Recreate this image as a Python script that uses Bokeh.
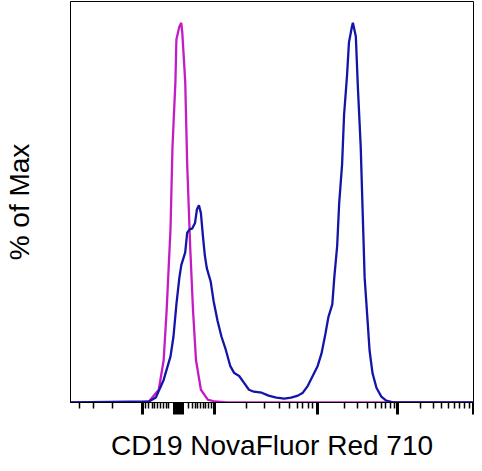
import numpy as np
from bokeh.plotting import figure
from bokeh.models import Range1d, FixedTicker, CustomJSTickFormatter
from bokeh.embed import file_html
from bokeh.resources import INLINE

# Histogram data (display channel, event counts)
mag_channel = [0, 70, 80, 90, 95, 98, 102, 104, 107, 108, 111, 113, 114, 117, 119, 122, 125, 128, 133, 140, 147, 160, 411]
mag_count = [0, 0, 1, 13, 43, 93, 177, 260, 327, 370, 383, 387, 377, 327, 243, 160, 93, 43, 13, 3, 1, 0, 0]

blue_channel = [0, 80, 87, 95, 102, 105, 108, 111, 113, 117, 119, 122, 124, 127, 129, 131, 133, 135, 137, 139,
                143, 146, 150, 154, 158, 163, 167, 172, 177, 182, 187, 195, 202, 210, 218, 225, 232, 237, 242, 247,
                252, 256, 260, 263, 267, 269, 272, 274, 277, 279, 282, 284, 287, 288, 291, 293, 296, 298, 300, 303,
                305, 308, 312, 317, 322, 330, 411]
blue_count = [0, 1, 5, 23, 47, 67, 100, 127, 140, 153, 173, 177, 177, 183, 197, 201, 193, 170, 150, 137,
              123, 103, 83, 67, 55, 37, 30, 27, 20, 13, 11, 10, 7, 5, 4, 5, 7, 10, 17, 27,
              37, 50, 70, 87, 100, 127, 160, 203, 243, 293, 333, 367, 383, 387, 373, 323, 260, 193, 127, 83,
              53, 30, 15, 6, 2, 0, 0]

# Biexponential axis tick positions (display channels)
major_ticks = [73.3, 106.5, 108.5, 110.5, 112.5, 114.5, 147, 251.7, 333.3, 410.5]
minor_ticks = [9, 23.3, 43.3, 76.7, 80, 83.3, 85.7, 88.3, 91.7, 95, 97.7, 100,
               120.5, 124, 127.5, 130, 133, 135.5, 138, 141, 144,
               180, 198.3, 213.3, 223.3, 231, 236.7, 242.3, 246.7,
               279.3, 292.7, 303.3, 311, 316.7, 321.7, 326.7, 330,
               356.7, 370, 378.3, 386, 391.7, 396.7, 401.7, 406.7]

x_label = "CD19 NovaFluor Red 710"
y_label = "% of Max"

mag_pct = np.array(mag_count) / max(mag_count) * 100
blue_pct = np.array(blue_count) / max(blue_count) * 100

p = figure(width=474, height=463, output_backend="svg", toolbar_location=None,
           x_range=Range1d(0, 411), y_range=Range1d(0, 105.6),
           min_border_left=69, min_border_right=1, min_border_top=1, min_border_bottom=60)
p.background_fill_color = "white"
p.border_fill_color = "white"
p.outline_line_color = "black"
p.outline_line_width = 1
p.xgrid.visible = False
p.ygrid.visible = False

p.line(mag_channel, mag_pct, line_color="#c41cc4", line_width=2.3)
p.line(blue_channel, blue_pct, line_color="#1414a8", line_width=2.3)

xa = p.xaxis[0]
xa.ticker = FixedTicker(ticks=major_ticks, minor_ticks=minor_ticks)
xa.formatter = CustomJSTickFormatter(code="return '';")
xa.major_label_text_font_size = "1px"
xa.major_label_standoff = 0
xa.major_tick_in = 0
xa.major_tick_out = 12
xa.major_tick_line_width = 3
xa.major_tick_line_color = "black"
xa.minor_tick_in = 0
xa.minor_tick_out = 6
xa.minor_tick_line_width = 1.5
xa.minor_tick_line_color = "black"
xa.axis_line_color = "black"
xa.axis_label = x_label
xa.axis_label_text_font = "Liberation Sans"
xa.axis_label_text_font_style = "normal"
xa.axis_label_text_font_size = "28px"
xa.axis_label_text_color = "black"
xa.axis_label_standoff = 15

ya = p.yaxis[0]
ya.ticker = FixedTicker(ticks=[])
ya.major_tick_line_color = None
ya.minor_tick_line_color = None
ya.major_tick_in = 0
ya.major_tick_out = 0
ya.minor_tick_in = 0
ya.minor_tick_out = 0
ya.major_label_standoff = 0
ya.axis_line_color = "black"
ya.axis_label = y_label
ya.axis_label_text_font = "Liberation Sans"
ya.axis_label_text_font_style = "normal"
ya.axis_label_text_font_size = "28px"
ya.axis_label_text_color = "black"
ya.axis_label_standoff = 36

open("out.html", "w").write(file_html(p, INLINE))
